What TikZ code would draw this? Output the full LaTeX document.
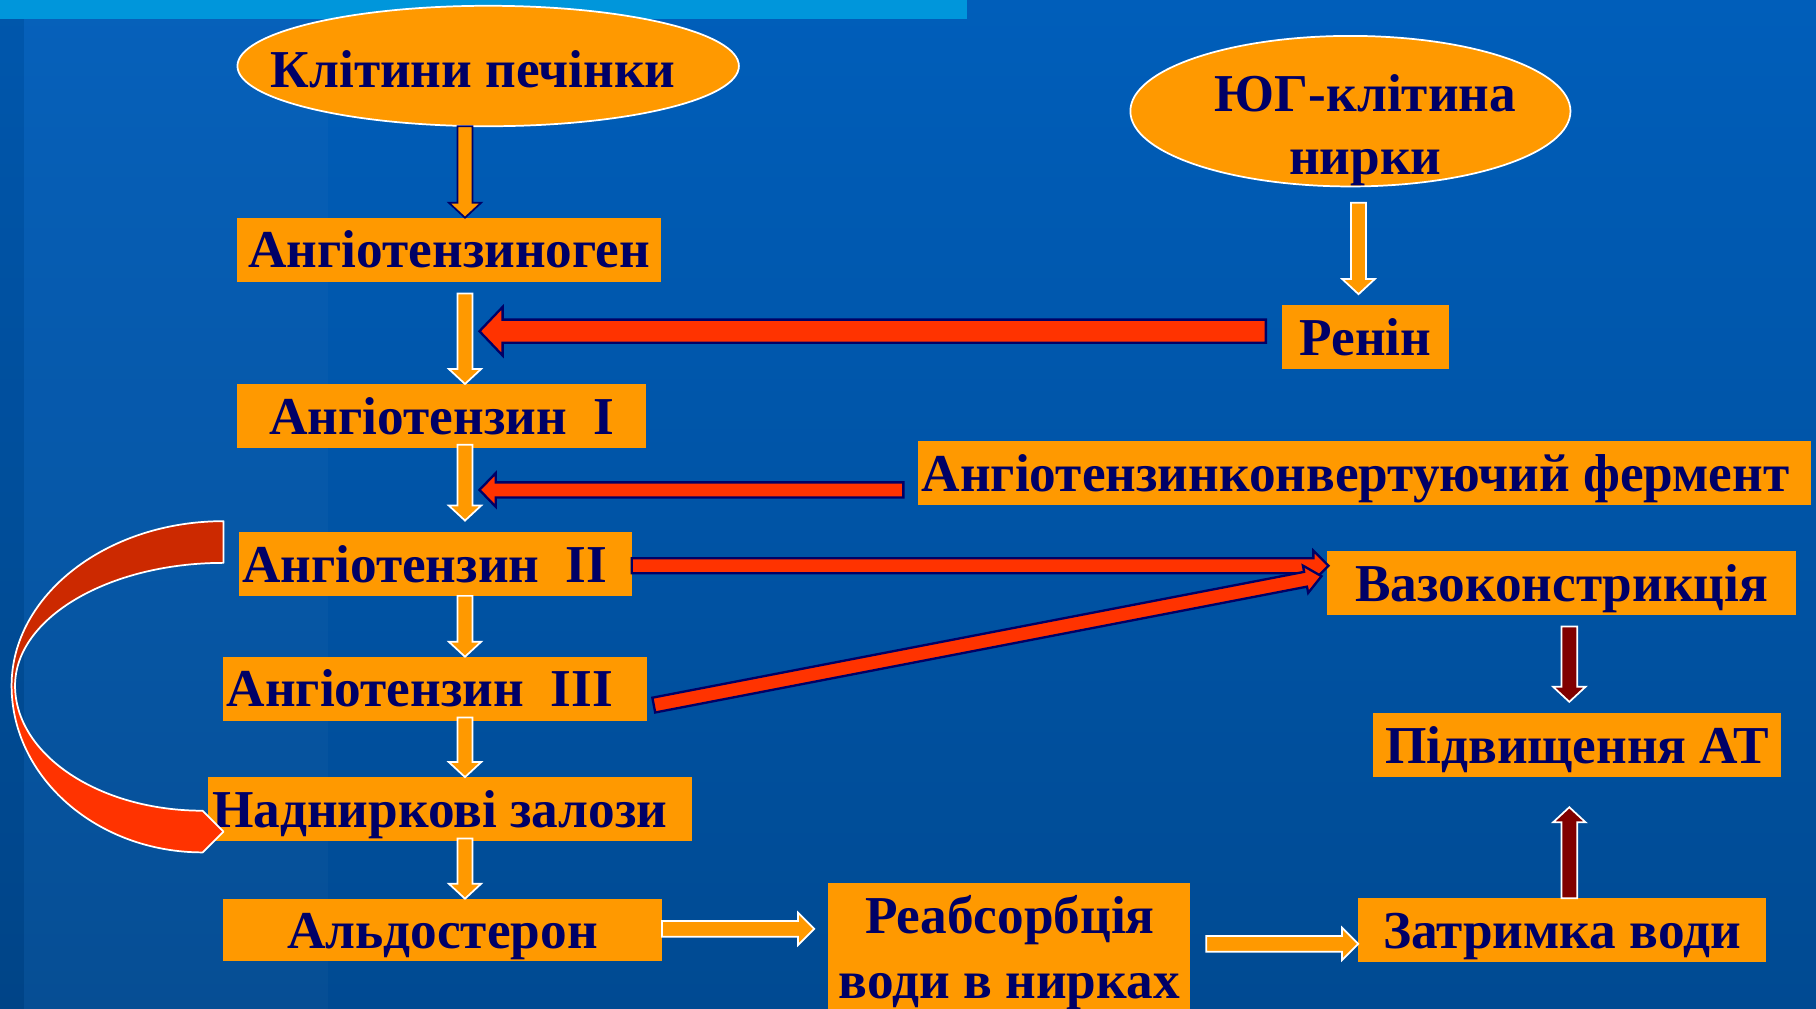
\documentclass[tikz,border=0pt]{standalone}
\usepackage{fontspec}
\setmainfont{Liberation Serif}
\usetikzlibrary{calc,shapes.geometric}

\definecolor{slideblue}{RGB}{0,94,186}
\definecolor{slidebluedark}{RGB}{0,74,146}
\definecolor{topbar}{RGB}{0,150,219}
\definecolor{boxorange}{RGB}{255,153,0}
\definecolor{arrowred}{RGB}{255,51,0}
\definecolor{curvedark}{RGB}{204,41,0}
\definecolor{bloodred}{RGB}{128,0,0}
\definecolor{inkblue}{RGB}{0,0,102}

% block arrow: style, from, to, shaft half width, head half width, head length
\newcommand{\blockarrow}[6]{%
  \coordinate (bah) at ($(#3)!#6!(#2)$);
  \draw[#1] ($(#2)!#4!90:(#3)$) -- ($(bah)!#4!90:(#3)$) -- ($(bah)!#5!90:(#3)$) -- (#3)
    -- ($(bah)!#5!-90:(#3)$) -- ($(bah)!#4!-90:(#3)$) -- ($(#2)!#4!-90:(#3)$) -- cycle;
}

\begin{document}
\begin{tikzpicture}[x=0.5pt,y=-0.5pt,
    every node/.style={font=\fontsize{23}{27.5}\selectfont\bfseries,text=inkblue,
      inner sep=0pt,outer sep=0pt},
    box/.style={fill=boxorange,text height=15.6pt,text depth=0pt},
    oval/.style={ellipse,fill=boxorange,draw=white,line width=0.75pt},
    orangearrow/.style={fill=boxorange,draw=white,line width=0.75pt},
    navyarrow/.style={fill=boxorange,draw=inkblue,line width=0.75pt},
    redarrow/.style={fill=arrowred,draw=inkblue,line width=1pt},
    darkarrow/.style={fill=bloodred,draw=white,line width=0.75pt}]

    \useasboundingbox (0,0) rectangle (1568,871);

    % slide background
    \shade[top color=slideblue,bottom color=slidebluedark] (0,0) rectangle (1568,871);
    \fill[black,opacity=0.07] (0,0) rectangle (21,871);
    \fill[white,opacity=0.025] (21,0) rectangle (283,871);
    \fill[topbar] (0,0) rectangle (835,16);

    % sources (ovals)
    \node[oval,minimum width=216.5pt,minimum height=52pt] (liver) at (421.5,57) {};
    \node[anchor=base] (livertxt) at (408.5,75.5) {Клітини печінки};
    \node[oval,minimum width=190pt,minimum height=65pt] (jug) at (1166,96) {};
    \node[anchor=base] (jugtxt) at (1179,96) {ЮГ-клітина};
    \node[anchor=base] (jugtxt2) at (1179,151) {нирки};

    % left column
    \node[box,minimum width=183pt,minimum height=27.75pt] (ang) at (388,215.75) {Ангіотензиноген};
    \node[box,minimum width=176.5pt,minimum height=27.75pt] (ang1) at (381.5,359.3) {Ангіотензин\ \ I};
    \node[box,minimum width=169.75pt,minimum height=27.5pt] (ang2) at (375.75,487) {Ангіотензин\ \ II\hspace*{9pt}};
    \node[box,minimum width=183pt,minimum height=27.75pt] (ang3) at (375.5,594.8) {Ангіотензин\ \ III\hspace*{13pt}};
    \node[box,minimum width=208.8pt,minimum height=27.5pt] (adr) at (388.8,698.5) {Надниркові залози\hspace*{9pt}};
    \node[box,minimum width=189.5pt,minimum height=27pt] (ald) at (382,803) {Альдостерон};

    % right side
    \node[box,minimum width=72pt,minimum height=28pt] (renin) at (1179,291) {Ренін};
    \node[box,minimum width=385.5pt,minimum height=27.5pt] (ace) at (1178.5,408.5) {Ангіотензинконвертуючий фермент\hspace*{8pt}};
    \node[box,minimum width=202.5pt,minimum height=27.5pt] (vaso) at (1348.5,503.5) {Вазоконстрикція};
    \node[box,minimum width=176.25pt,minimum height=27.5pt] (pidv) at (1361.75,643.5) {Підвищення АТ};
    \node[box,minimum width=176pt,minimum height=27.5pt] (zatr) at (1348.75,803) {Затримка води};
    \node[fill=boxorange,minimum width=156.3pt,minimum height=54.2pt] (reab) at (871.3,816.8) {};
    \node[anchor=base] (reabtxt) at (872,806) {Реабсорбція};
    \node[anchor=base] (reabtxt2) at (871.5,862) {води в нирках};

    % orange flow arrows
    \coordinate (col) at (401.5,0);
    \coordinate (col2) at (1173,0);
    \coordinate (a1s) at (col |- liver.south);
    \coordinate (a1e) at (col |- ang.north);
    \blockarrow{navyarrow}{a1s}{a1e}{3.25pt}{7pt}{6.5pt}
    \coordinate (a2s) at ($(col |- ang.south)+(0,10)$);
    \coordinate (a2e) at (col |- ang1.north);
    \blockarrow{orangearrow}{a2s}{a2e}{3.25pt}{7pt}{6.5pt}
    \coordinate (a3s) at ($(col |- ang1.south)+(0,-3)$);
    \coordinate (a3e) at ($(col |- ang2.north)+(0,-10)$);
    \blockarrow{orangearrow}{a3s}{a3e}{3.25pt}{7pt}{6.5pt}
    \coordinate (a4s) at (col |- ang2.south);
    \coordinate (a4e) at (col |- ang3.north);
    \blockarrow{orangearrow}{a4s}{a4e}{3.25pt}{7pt}{6.5pt}
    \coordinate (a5s) at ($(col |- ang3.south)+(0,-3)$);
    \coordinate (a5e) at (col |- adr.north);
    \blockarrow{orangearrow}{a5s}{a5e}{3.25pt}{7pt}{6.5pt}
    \coordinate (a6s) at ($(col |- adr.south)+(0,-2)$);
    \coordinate (a6e) at (col |- ald.north);
    \blockarrow{orangearrow}{a6s}{a6e}{3.25pt}{7pt}{6.5pt}
    \coordinate (a7s) at ($(col2 |- jug.south)+(0,14)$);
    \coordinate (a7e) at ($(col2 |- renin.north)+(0,-9)$);
    \blockarrow{orangearrow}{a7s}{a7e}{3.25pt}{7pt}{6.5pt}
    \coordinate (a8s) at ($(ald.east)+(0,-1)$);
    \coordinate (a8e) at ($(ald.east -| reab.west)+(-12,-1)$);
    \blockarrow{orangearrow}{a8s}{a8e}{3.4pt}{7pt}{7pt}
    \coordinate (a9e) at ($(zatr.west)+(0,12)$);
    \coordinate (a9s) at ($(reab.east |- a9e)+(14,0)$);
    \blockarrow{orangearrow}{a9s}{a9e}{3.4pt}{7pt}{7pt}

    % enzymes and effects (red)
    \coordinate (r1s) at ($(renin.west)+(-14,-5)$);
    \coordinate (r1e) at ($(col |- renin.west)+(12.5,-5)$);
    \blockarrow{redarrow}{r1s}{r1e}{5pt}{10.5pt}{10pt}
    \coordinate (r2s) at ($(ace.west)+(-13,14.5)$);
    \coordinate (r2e) at ($(col |- ace.west)+(12.5,14.5)$);
    \blockarrow{redarrow}{r2s}{r2e}{3.25pt}{7.25pt}{7pt}
    \coordinate (r3s) at ($(ang2.east)+(0,1.5)$);
    \coordinate (r3e) at ($(vaso.west)+(1,-15)$);
    \blockarrow{redarrow}{r3s}{r3e}{3.25pt}{6.5pt}{6.5pt}
    \coordinate (r4s) at ($(ang3.east)+(6,14)$);
    \coordinate (r4e) at ($(vaso.west)+(-5,-6)$);
    \blockarrow{redarrow}{r4s}{r4e}{3.25pt}{6pt}{7pt}

    % blood pressure (dark red)
    \coordinate (col3) at (1355,0);
    \coordinate (d1s) at ($(col3 |- vaso.south)+(0,10)$);
    \coordinate (d1e) at ($(col3 |- pidv.north)+(0,-10)$);
    \blockarrow{darkarrow}{d1s}{d1e}{3.4pt}{7pt}{6.5pt}
    \coordinate (d2s) at (col3 |- zatr.north);
    \coordinate (d2e) at ($(col3 |- pidv.south)+(0,26)$);
    \blockarrow{darkarrow}{d2s}{d2e}{3.4pt}{7pt}{6.5pt}

    % feedback loop on the left
    \fill[curvedark] (193,450) .. controls (92,450) and (10,514) .. (10,592) -- (13,592)
      .. controls (13,533.5) and (94,486) .. (193,486) -- cycle;
    \fill[arrowred] (10,592) .. controls (10,671.5) and (84,736) .. (175,736) -- (193,718)
      -- (175,700) .. controls (85.5,700) and (13,651.6) .. (13,592) -- cycle;
    \draw[white,line width=0.75pt,line join=round] (193,450) .. controls (92,450) and (10,514) .. (10,592)
      .. controls (10,671.5) and (84,736) .. (175,736) -- (193,718) -- (175,700)
      .. controls (85.5,700) and (13,651.6) .. (13,592)
      .. controls (13,533.5) and (94,486) .. (193,486) -- cycle;
  \end{tikzpicture}
\end{document}
